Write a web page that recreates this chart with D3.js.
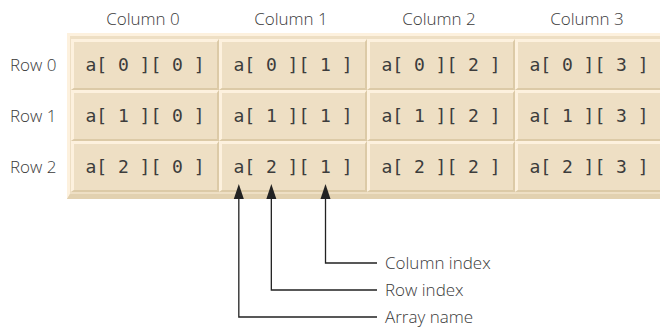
<!DOCTYPE html>
<html><head><meta charset="utf-8">
<script src="https://cdn.jsdelivr.net/npm/d3@7"></script>
<style>html,body{margin:0;padding:0;background:#fff;overflow:hidden}svg{display:block}</style>
</head><body>
<svg id="c" width="660" height="328"></svg>
<script>
const columnLabels = ["Column 0", "Column 1", "Column 2", "Column 3"];
const rowLabels = ["Row 0", "Row 1", "Row 2"];
const rowIdx = [0, 1, 2];
const colIdx = [0, 1, 2, 3];
const arrayName = "a";
// annotated element: row 2, column 1; character positions within the cell text
const targetRow = 2, targetCol = 1;
const annotLabels = ["Column index", "Row index", "Array name"];
const annotChars = [8, 3, 0];

const svg = d3.select("#c");
const C = {face:"#eedfc4", light:"#fdf1de", dark:"#dccaa7", frameDark:"#e2d1b0", text:"#3a3a3a", mono:"#3c3c3c", line:"#222"};
const labelFont = "'Open Sans', sans-serif";
const monoFont = "'DejaVu Sans Mono', monospace";

const x = d3.scaleBand().domain(colIdx).range([71, 663]);
const y = d3.scaleBand().domain(rowIdx).range([39, 192]);
const frame = {x0:67, y0:33, x1:667, y1:199};

function bevel(g, x0, y0, x1, y1, tl, br, fill, cl, cd) {
  g.append("rect").attr("x", x0).attr("y", y0).attr("width", x1 - x0).attr("height", y1 - y0).attr("fill", fill);
  g.append("path").attr("fill", cl).attr("d",
    `M${x0},${y0}L${x1},${y0}L${x1-br},${y0+tl}L${x0+tl},${y0+tl}L${x0+tl},${y1-br}L${x0},${y1}Z`);
  g.append("path").attr("fill", cd).attr("d",
    `M${x1},${y1}L${x0},${y1}L${x0+tl},${y1-br}L${x1-br},${y1-br}L${x1-br},${y0+tl}L${x1},${y0}Z`);
}

const grid = svg.append("g");
bevel(grid, frame.x0, frame.y0, frame.x1, frame.y1, 3, 5, C.face, C.light, C.frameDark);

const cells = [];
rowIdx.forEach(r => colIdx.forEach(c => cells.push({r, c})));
cells.forEach(d => {
  bevel(grid, x(d.c), y(d.r), x(d.c) + x.bandwidth(), y(d.r) + y.bandwidth(), 3, 2, C.face, C.light, C.dark);
});

const fs = 18;
grid.selectAll("text.cell").data(cells).join("text").attr("class", "cell")
  .attr("x", d => x(d.c) + x.bandwidth() / 2)
  .attr("y", d => y(d.r) + y.bandwidth() / 2 + 6)
  .attr("text-anchor", "middle")
  .attr("font-family", monoFont).attr("font-size", fs).attr("fill", C.mono)
  .style("white-space", "pre")
  .text(d => `${arrayName}[ ${d.r} ][ ${d.c} ]`);

svg.selectAll("text.col").data(colIdx).join("text").attr("class", "col")
  .attr("x", d => x(d) + x.bandwidth() / 2 - 2)
  .attr("y", 25)
  .attr("text-anchor", "middle")
  .attr("font-family", labelFont).attr("font-size", 17).attr("font-weight", 300).attr("fill", C.text)
  .text(d => columnLabels[d]);

svg.selectAll("text.row").data(rowIdx).join("text").attr("class", "row")
  .attr("x", 10)
  .attr("y", d => y(d) + y.bandwidth() / 2 + 6)
  .attr("font-family", labelFont).attr("font-size", 17).attr("font-weight", 300).attr("fill", C.text)
  .text(d => rowLabels[d]);

// annotations
const sample = `${arrayName}[ ${targetRow} ][ ${targetCol} ]`;
const charW = fs * 0.602;
const textStart = x(targetCol) + x.bandwidth() / 2 - sample.length * charW / 2;
const ly = d3.scalePoint().domain(d3.range(annotLabels.length)).range([263, 317]);
const tipY = 184, headLen = 15, headHalf = 5, lineEndX = 377;

const ann = svg.append("g");
annotLabels.forEach((lab, i) => {
  const ax = textStart + (annotChars[i] + 0.5) * charW;
  const yy = ly(i);
  ann.append("path")
    .attr("d", `M${lineEndX},${yy}H${ax}V${tipY + headLen - 1}`)
    .attr("fill", "none").attr("stroke", C.line).attr("stroke-width", 1.3);
  ann.append("path")
    .attr("d", `M${ax},${tipY}L${ax + headHalf},${tipY + headLen}L${ax - headHalf},${tipY + headLen}Z`)
    .attr("fill", C.line);
  ann.append("text").attr("x", 385).attr("y", yy + 6)
    .attr("font-family", labelFont).attr("font-size", 17).attr("font-weight", 300).attr("fill", C.text)
    .text(lab);
});
</script>
</body></html>
